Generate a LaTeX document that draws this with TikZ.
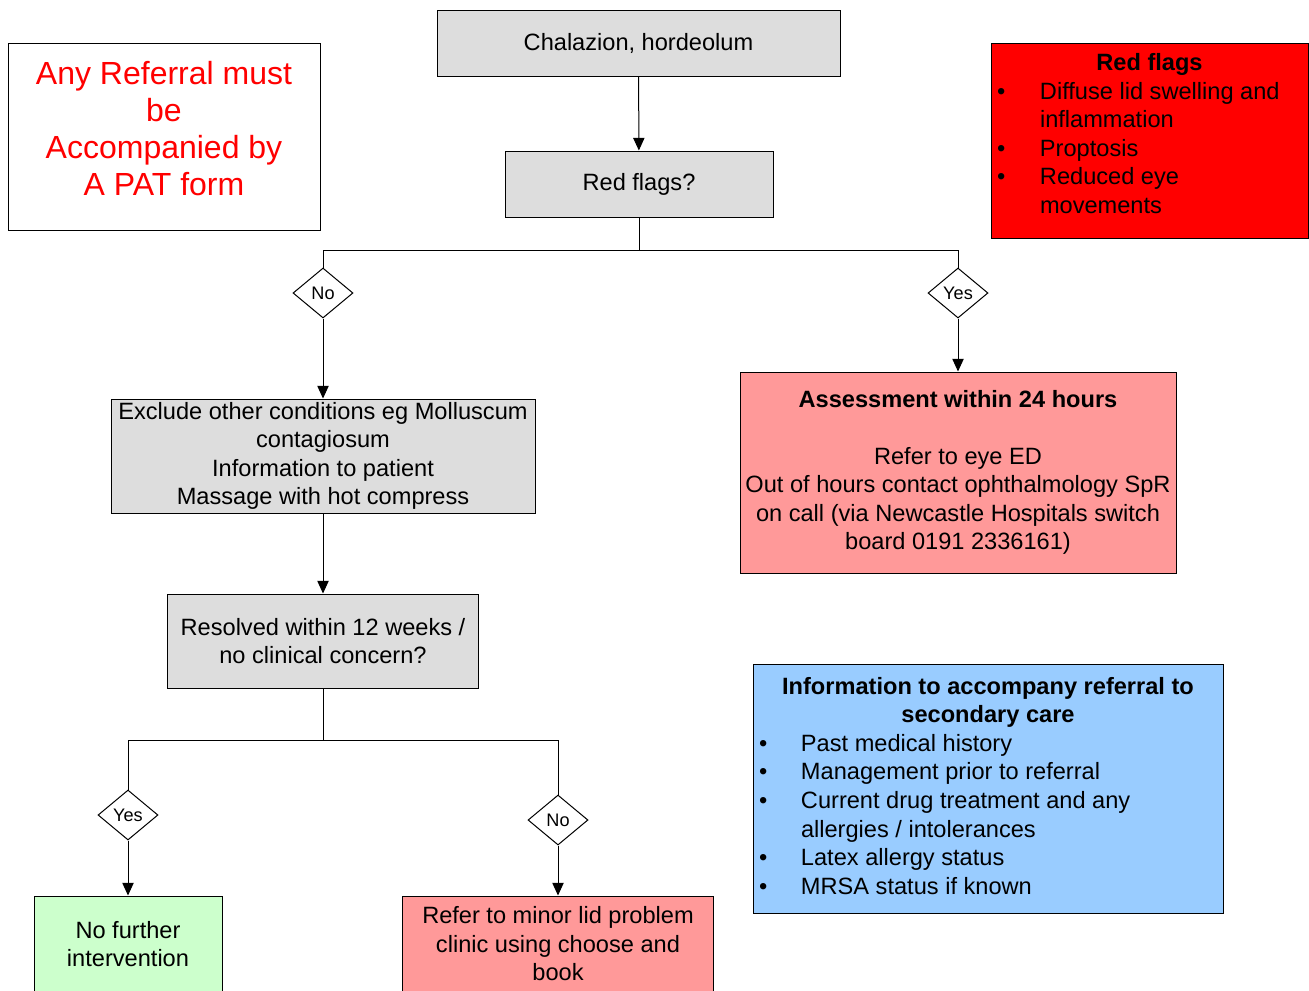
\documentclass[tikz,border=0pt]{standalone}
\usepackage{fontspec}
\setmainfont{Liberation Sans}
\usetikzlibrary{arrows.meta,shapes.geometric}

\definecolor{boxgray}{RGB}{221,221,221}
\definecolor{boxpink}{RGB}{255,153,153}
\definecolor{boxgreen}{RGB}{204,255,204}
\definecolor{boxblue}{RGB}{153,204,255}
\definecolor{flagred}{RGB}{255,0,0}

\newcommand{\mainsize}{\fontsize{17.7}{21.4}\selectfont}
\newcommand{\decsize}{\fontsize{13.6}{16}\selectfont}
\newcommand{\patsize}{\fontsize{24}{27.75}\selectfont}

\tikzset{every picture/.style={line width=0.75pt}}
\tikzset{
  stepbox/.style={draw=black, rectangle, inner sep=0pt, align=center, font=\mainsize},
  decision/.style={draw=black, fill=white, diamond, inner sep=0pt, minimum width=45pt, minimum height=37.5pt, font=\decsize},
  flowarrow/.style={-{Triangle[length=9.5pt,width=8.5pt]}},
}

\begin{document}
\begin{tikzpicture}[x=0.75pt,y=0.75pt,yscale=-1,xscale=1]
\clip (0,0) rectangle (1309,990);

%Boxes of the main flow
\node[stepbox, fill=boxgray, minimum width=302.25pt, minimum height=49.5pt] (chal) at (638.5,43) {Chalazion, hordeolum};
\node[stepbox, fill=boxgray, minimum width=201pt, minimum height=49.5pt] (redq) at (639,184) {Red flags?};
\node[stepbox, fill=boxgray, minimum width=318pt, minimum height=85.5pt] (exclude) at (323,456) {Exclude other conditions eg Molluscum\\contagiosum\\Information to patient\\Massage with hot compress};
\node[stepbox, fill=boxpink, minimum width=327pt, minimum height=150.75pt] (assess) at (958,472.5) {\textbf{Assessment within 24 hours}\\[21.4pt]Refer to eye ED\\Out of hours contact ophthalmology SpR\\on call (via Newcastle Hospitals switch\\board 0191 2336161)};
\node[stepbox, fill=boxgray, minimum width=233.25pt, minimum height=70.5pt] (resolved) at (323,641) {Resolved within 12 weeks /\\no clinical concern?};
\node[stepbox, fill=boxgreen, minimum width=141pt, minimum height=72pt] (nofurther) at (128,944) {No further\\intervention};
\node[stepbox, fill=boxpink, minimum width=233.25pt, minimum height=72pt] (refer) at (558,944) {Refer to minor lid problem\\clinic using choose and\\book};

%Decisions
\node[decision] (no1) at (323,293) {No};
\node[decision] (yes1) at (958,293) {Yes};
\node[decision] (yes2) at (128,815) {Yes};
\node[decision] (no2) at (558,820) {No};

%Side boxes
\node[stepbox, fill=white, text=flagred, font=\patsize, minimum width=234pt, minimum height=140.25pt] (pat) at (164,136.5) {\begin{tabular}{@{}c@{}}Any Referral must\\be\\Accompanied by\\A PAT form\\[6.5pt]\end{tabular}};
\node[stepbox, fill=flagred, minimum width=237.75pt, minimum height=146.25pt] (flags) at (1149.5,140.5) {\begin{tabular}{@{}p{32.25pt}@{}p{196.5pt}@{}}
\multicolumn{2}{c}{\textbf{Red flags}}\\
\textbullet & Diffuse lid swelling and\\
 & inflammation\\
\textbullet & Proptosis\\
\textbullet & Reduced eye\\
 & movements\\[6.5pt]
\end{tabular}};
\node[stepbox, fill=boxblue, minimum width=352.5pt, minimum height=186.75pt] (info) at (988,788.5) {\begin{tabular}{@{}p{31.5pt}@{}p{312pt}@{}}
\multicolumn{2}{c}{\textbf{Information to accompany referral to}}\\
\multicolumn{2}{c}{\textbf{secondary care}}\\
\textbullet & Past medical history\\
\textbullet & Management prior to referral\\
\textbullet & Current drug treatment and any\\
 & allergies / intolerances\\
\textbullet & Latex allergy status\\
\textbullet & MRSA status if known\\
\end{tabular}};

%Connectors
\draw[flowarrow] (chal) -- (redq);
\draw (redq.south) -- ++(0,33) coordinate (split1);
\draw (split1) -| (no1.north);
\draw (split1) -| (yes1.north);
\draw[flowarrow] (no1) -- (exclude);
\draw[flowarrow] (yes1) -- (assess);
\draw[flowarrow] (exclude) -- (resolved);
\draw (resolved.south) -- ++(0,52) coordinate (split2);
\draw (split2) -| (yes2.north);
\draw (split2) -| (no2.north);
\draw[flowarrow] (yes2) -- (nofurther);
\draw[flowarrow] (no2) -- (refer);

\end{tikzpicture}
\end{document}
